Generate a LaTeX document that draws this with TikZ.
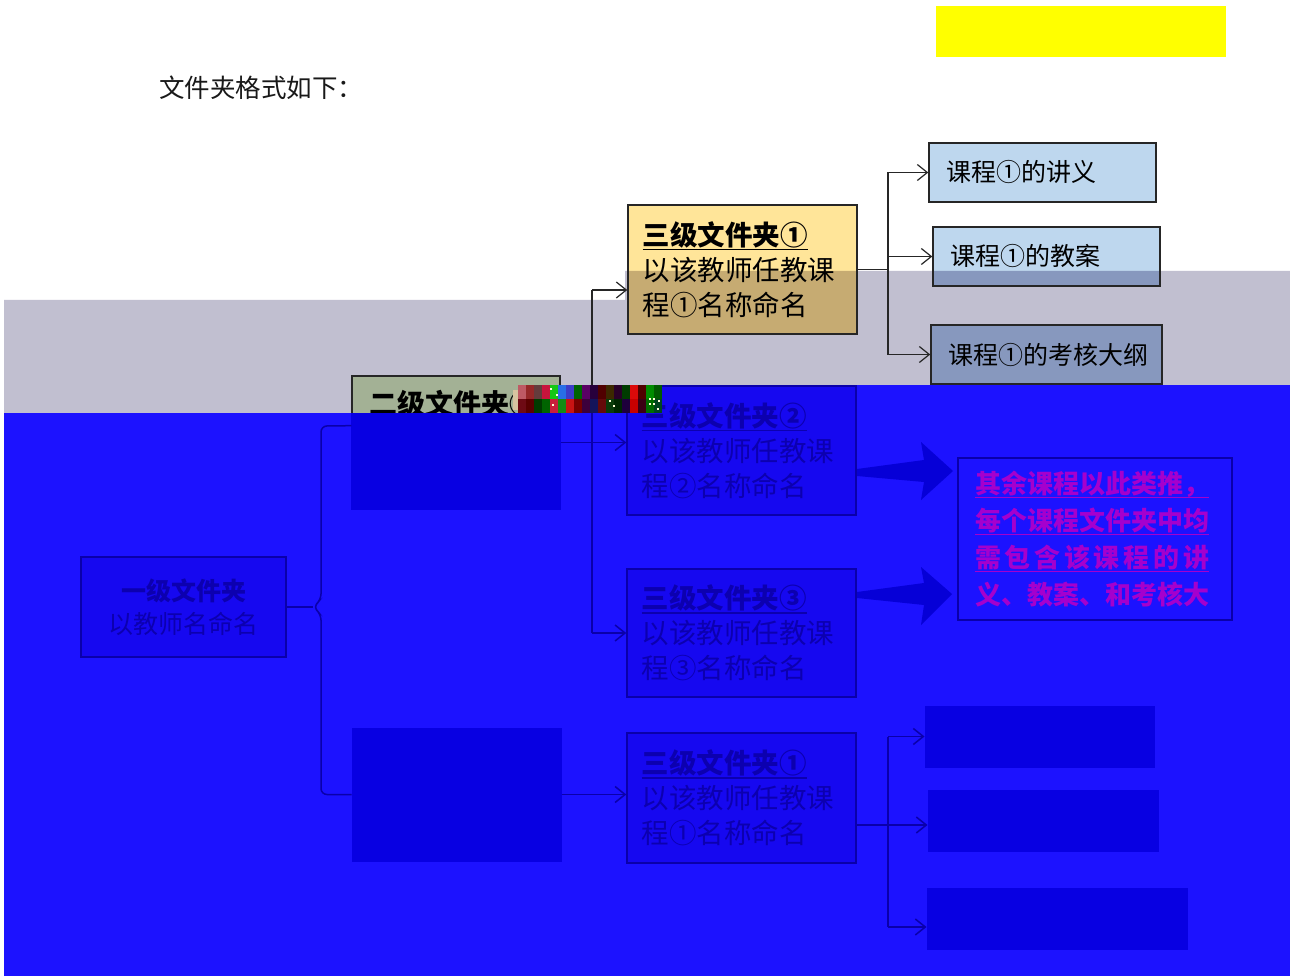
\documentclass[tikz,border=0pt]{standalone}
\usepackage{fontspec}
\newfontfamily\cjk{Noto Sans CJK SC}
\usetikzlibrary{arrows.meta,calc}
\definecolor{bandgray}{RGB}{193,191,208}
\definecolor{paleblue}{RGB}{190,215,238}
\definecolor{paleblueD}{RGB}{135,152,190}
\definecolor{paleyel}{RGB}{255,229,153}
\definecolor{ochre}{RGB}{198,171,114}
\definecolor{sage}{RGB}{163,177,149}
\definecolor{ovblue}{RGB}{28,18,255}
\definecolor{hidfill}{RGB}{22,8,240}
\definecolor{hiddark}{RGB}{8,0,226}
\definecolor{hidline}{RGB}{10,0,170}
\definecolor{hidtext}{RGB}{12,0,175}
\definecolor{hidarrow}{RGB}{6,0,215}
\definecolor{magtext}{RGB}{165,0,205}
\definecolor{yellowbar}{RGB}{255,255,0}
\newcommand\myul[1]{\leavevmode\setbox0=\hbox{#1}\rlap{\rule[-5pt]{\wd0}{1.6pt}}\box0}
\begin{document}
\begin{tikzpicture}[x=1pt,y=-1pt,
  conn/.style={draw=black!85, line width=1.2pt},
  arr/.style={conn, -{Straight Barb[length=10pt,width=16pt]}},
  hconn/.style={draw=hidline, line width=1.5pt},
  harr/.style={hconn, -{Straight Barb[length=10pt,width=16pt]}},
  tbox/.style={draw=black!85, line width=1.5pt, minimum height=129pt, text width=200pt,
    inner xsep=14.5pt, inner ysep=2pt, align=left, font=\cjk\fontsize{27.5}{35}\selectfont},
  ubox/.style={draw=black!85, line width=1.5pt, minimum height=59pt, inner xsep=17pt,
    align=left, font=\cjk\fontsize{25}{30}\selectfont},
  shadeband/.style={path picture={\fill[#1] (g1)--(g2)--(g3)--(g4)--(g5)--(g6)--cycle;}},
  hid/.style={draw=hidline, fill=hidfill, text=hidtext},
  hdark/.style={draw=hiddark, fill=hiddark, line width=1pt, inner sep=0pt}
]
\useasboundingbox (0,0) rectangle (1290,976);
\fill[white] (0,0) rectangle (1290,976);
% band outline
\coordinate (g1) at (4,300);
\coordinate (g2) at (625,300);
\coordinate (g3) at (625,271);
\coordinate (g4) at (1290,271);
\coordinate (g5) at (1290,420);
\coordinate (g6) at (4,420);
\coordinate (blueL) at (4,413);
\coordinate (blueR) at (1290,385);
\fill[bandgray] (g1)--(g2)--(g3)--(g4)--(g5)--(g6)--cycle;

\node (ybar) [fill=yellowbar, minimum width=290pt, minimum height=51pt, inner sep=0pt] at (1081,31.5) {};
\node (ttl) [anchor=west, inner sep=0pt, font=\cjk\fontsize{25.5}{30}\selectfont, text=black!90] at (159,88) {文件夹格式如下：};

% visible part
\node (o1) [tbox, fill=paleyel, shadeband=ochre] at (742.5,269.5)
  {\myul{\bfseries 三级文件夹①}\\以该教师任教课\\程①名称命名};
\node (u1) [ubox, fill=paleblue, text width=193pt] at (1042.5,172.5) {课程①的讲义};
\node (u2) [ubox, fill=paleblue, shadeband=paleblueD, text width=193pt] at (1046.5,256.5) {课程①的教案};
\node (u3) [ubox, fill=paleblueD, text width=197pt] at (1046.5,354.5) {课程①的考核大纲};
\node (e1) [draw=black!85, line width=1.5pt, fill=sage, minimum width=208pt, minimum height=133pt] at (456,442.5) {};
\node (e1t) [anchor=base west, inner sep=0pt, font=\cjk\bfseries\fontsize{28}{34}\selectfont] at (369,414) {二级文件夹①};

\coordinate (j0) at (592,290);
\coordinate (jb) at (592,633);
\draw[conn] (j0) -- (jb);
\draw[arr] (j0) -- (o1.west |- j0);
\coordinate (f1) at (888,172.5);
\coordinate (f2) at (888,354.5);
\draw[conn] (o1.east) -- (o1.east -| f1);
\draw[conn] (f1) -- (f2);
\draw[arr] (f1) -- (u1.west);
\draw[arr] (f1 |- u2.west) -- (u2.west);
\draw[arr] (f2) -- (u3.west);

% blue overlay
\fill[ovblue] (blueL) -- (518,413) -- (518,385) -- (blueR) -- (1290,976) -- (4,976) -- cycle;
\fill[hiddark] (e1.west |- blueL) rectangle (e1.south east);

\node (a1) [draw=hidline, line width=1.3pt, fill=hidfill, text=hidtext, minimum width=205pt, minimum height=100pt,
  align=center, font=\cjk\fontsize{25}{33}\selectfont] at (183.5,607) {{\bfseries 一级文件夹}\\以教师名命名};
\node (e2) [hdark, minimum width=209pt, minimum height=133pt] at (456.5,794.5) {};
\node (t2) [tbox, hid] at (741.5,450.5) {\myul{\bfseries 三级文件夹②}\\以该教师任教课\\程②名称命名};
\node (t3) [tbox, hid, minimum height=128pt] at (741.5,633) {\myul{\bfseries 三级文件夹③}\\以该教师任教课\\程③名称命名};
\node (t4) [tbox, hid, minimum height=130pt] at (741.5,798) {\myul{\bfseries 三级文件夹①}\\以该教师任教课\\程①名称命名};
\node (l1) [hdark, minimum width=229pt, minimum height=61pt] at (1039.5,736.5) {};
\node (l2) [hdark, minimum width=230pt, minimum height=61pt] at (1043,820.5) {};
\node (l3) [hdark, minimum width=260pt, minimum height=61pt] at (1057,918.5) {};
\node (n1) [draw=hidline, line width=1.5pt, minimum width=274pt, minimum height=162pt, text width=240pt,
  inner xsep=17pt, inner ysep=2pt, align=left, text=magtext,
  font=\cjk\bfseries\fontsize{26}{37}\selectfont] at (1095,539)
  {\myul{其余课程以此类推，}\\\myul{每个课程文件夹中均}\\\myul{\makebox[234pt][s]{需\hfill 包\hfill 含\hfill 该\hfill 课\hfill 程\hfill 的\hfill 讲}}\\义、教案、和考核大};

% hidden connectors
\draw[hconn] (j0 |- blueR) -- (jb);
\draw[hconn] (e1.east) -- (e1.east -| j0);
\draw[harr] (e1.east -| j0) -- (t2.west |- e1.east);
\draw[harr] (jb) -- (t3.west |- jb);
\draw[hconn, rounded corners=6pt] ($(e1.north west)!0.375!(e1.south west)$) -- (321,426) -- (321,600) -- (313,607)
  -- (321,614) -- (321,794.5) -- (e2.west);
\draw[hconn] (a1.east) -- (313,607);
\draw[harr] (e2.east) -- (t4.west |- e2.east);
\coordinate (h0) at ($(t4.east)+(0,27)$);
\coordinate (f3) at (888,736.5);
\coordinate (f4) at (888,927);
\draw[hconn] (h0) -- (h0 -| f3);
\draw[hconn] (f3) -- (f4);
\draw[harr] (f3) -- (l1.west);
\draw[harr] (h0 -| f3) -- (l2.west |- h0);
\draw[harr] (f4) -- (l3.west |- f4);

% block arrows
\fill[hidarrow] (857,469) -- (924,460) -- (921,442) -- (953,471) -- (921,500) -- (924,482) -- (857,476) -- cycle;
\fill[hidarrow] (857,592) -- (924,583) -- (921,567) -- (952,594) -- (921,625) -- (924,605) -- (857,598) -- cycle;

% glitch blocks
\fill[fill={rgb,255:red,215;green,195;blue,160}] (513,390) rectangle (518,410);
\foreach \cx/\ra/\ga/\ba/\rb/\gb/\bb in {
  518/190/90/100/110/10/20, 526/150/40/40/90/0/0, 534/100/60/60/0/60/0,
  542/200/20/60/0/100/0, 550/20/200/20/200/30/60, 558/40/110/230/20/140/20,
  566/60/60/200/200/20/20, 574/0/100/0/120/0/0, 582/90/0/100/60/0/60,
  590/40/0/60/20/20/90, 598/80/0/0/100/10/10, 606/60/40/0/10/60/10,
  614/40/0/40/0/40/0, 622/0/60/0/30/0/60, 630/220/10/10/200/0/0,
  638/80/0/0/60/0/20, 646/0/140/0/0/110/0, 654/0/90/0/0/70/30} {
  \definecolor{gtop}{RGB}{\ra,\ga,\ba}
  \definecolor{gbot}{RGB}{\rb,\gb,\bb}
  \fill[gtop] (\cx,385) rectangle ++(8,14);
  \fill[gbot] (\cx,399) rectangle ++(8,14);
}
\foreach \px/\py in {550/388, 556/394, 552/404, 609/400, 613/405, 649/398, 653/398, 649/403, 653/403, 657/408, 658/400} {
  \fill[white!85!yellow] (\px,\py) rectangle ++(2,2);
}
\end{tikzpicture}
\end{document}
